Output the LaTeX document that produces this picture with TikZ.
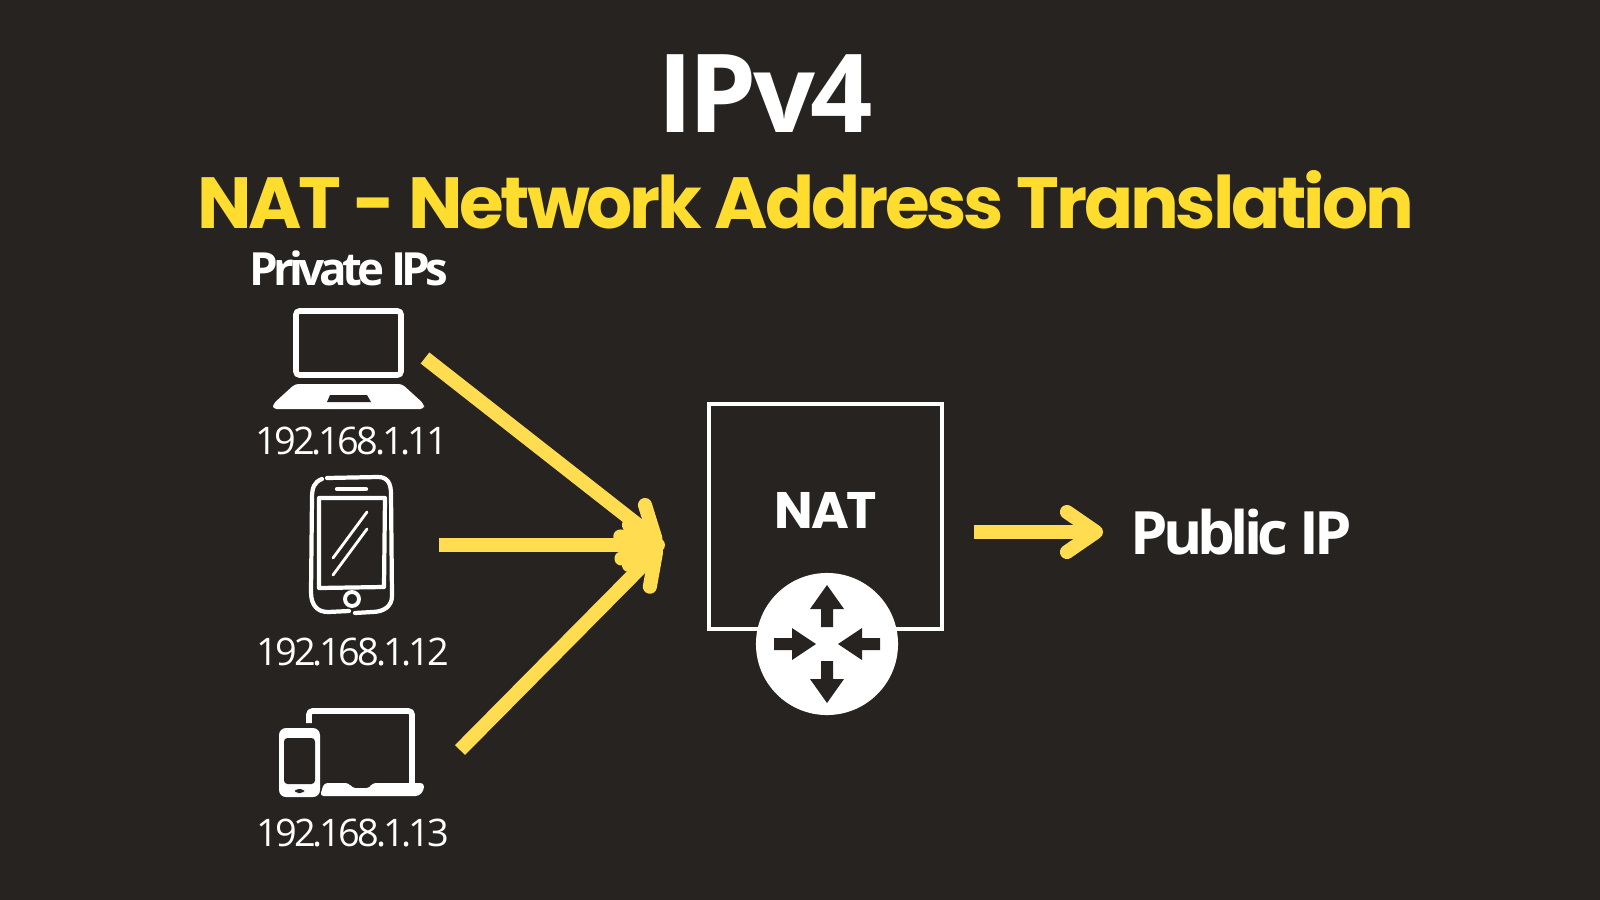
\documentclass[tikz,border=0pt]{standalone}
\usepackage{fontspec}
\setmainfont{Open Sans}
\newfontfamily\headfont{Poppins}[LetterSpace=-4.3]
\newfontfamily\ipfont{Open Sans}[LetterSpace=-8]
\usetikzlibrary{arrows.meta,positioning}
\definecolor{natbg}{HTML}{262321}
\definecolor{natyellow}{HTML}{FFDC50}
\definecolor{headyellow}{HTML}{FFDD2E}
\tikzset{
  yarrow/.style={draw=natyellow,line width=4pt,-{Straight Barb[round,length=2.9mm,width=4mm]}},
  iplabel/.style={text=white,font=\ipfont\fontsize{10.8}{12}\selectfont,inner sep=0pt},
  sketch/.style={draw=white,line width=0.8pt,line cap=round,line join=round},
  icon/.style={draw=white,line width=1.6pt,rounded corners=1pt}
}
\begin{document}
\begin{tikzpicture}[x=0.01cm,y=-0.01cm]
\fill[natbg] (0,0) rectangle (1600,900);
\useasboundingbox (0,0) rectangle (1600,900);
\node[text=white,font=\addfontfeature{LetterSpace=-4}\fontsize{31}{34}\selectfont\bfseries,inner sep=0pt] (title) at (765,94) {IPv4};
\node[text=headyellow,font=\headfont\fontsize{20.6}{24}\selectfont\bfseries,inner sep=0pt] (subtitle) at (805.5,200) {NAT - Network Address Translation};
\node[text=white,font=\addfontfeature{LetterSpace=-10.5}\fontsize{13}{15}\selectfont\bfseries,inner sep=0pt] (private) at (349,268) {Private IPs};
% laptop
\draw[icon] (296,311) rectangle (401,375);
\fill[white,rounded corners=1pt] (295,384) -- (402,384) -- (424,404) -- (424,409) -- (273,409) -- (273,404) -- cycle;
\fill[natbg] (330,395) -- (367,395) -- (371,402) -- (327,402) -- cycle;
\node[iplabel] (ip1) at (352,441) {192.168.1.11};
% phone
\draw[sketch,line width=1.2pt] (322,479) .. controls (314,482) and (312,488) .. (312,498) -- (311,592) .. controls (311,606) and (318,612) .. (328,612) -- (349,611);
\draw[sketch,line width=1.2pt] (327,478) -- (378,477) .. controls (388,477) and (391,484) .. (391,494) -- (392,596) .. controls (392,606) and (384,612) .. (372,612) -- (355,613);
\draw[sketch,line width=1.2pt] (319,498) -- (385,498) -- (384,587) -- (319,588) -- cycle;
\draw[sketch,line width=1.2pt] (337,489) -- (366,489);
\draw[sketch] (367,512) -- (333,558);
\draw[sketch] (367,529) -- (333,575);
\draw[sketch,line width=1.1pt] (352,599) circle (7);
\node[iplabel] (ip2) at (353,652) {192.168.1.12};
% laptop and phone
\draw[icon] (309,723) -- (309,711) -- (412,711) -- (412,784);
\fill[white,rounded corners=1pt] (324,783) -- (349,783) -- (352,788) -- (370,788) -- (372,783) -- (424,783) -- (424,790) -- (419,796) -- (320,796) -- cycle;
\fill[white,rounded corners=0.7mm] (279,728) rectangle (320,797);
\fill[natbg,rounded corners=1pt] (284,738) rectangle (315,784);
\fill[natbg,rounded corners=1pt] (295,789) rectangle (304,793);
\node[iplabel] (ip3) at (353,833) {192.168.1.13};
% arrows to the box
\coordinate (from1) at (425,358);
\coordinate (from2) at (439,545);
\coordinate (from3) at (460,750);
\coordinate (to1) at (661,543);
\coordinate (to2) at (665,545);
\coordinate (to3) at (661,547);
\draw[yarrow] (from1)--(to1);
\draw[yarrow] (from2)--(to2);
\draw[yarrow] (from3)--(to3);
% box and router
\node[draw=white,line width=0.9pt,minimum width=2.33cm,minimum height=2.25cm,inner sep=0pt] (nat) at (825.5,516.5) {};
\node[text=white,font=\headfont\fontsize{14.6}{16}\selectfont\bfseries,inner sep=0pt] (nattext) at (826,510) {NAT};
\node[circle,fill=white,minimum size=1.42cm,inner sep=0pt] (router) at (827,644) {};
\foreach \ang in {0,180}
  \fill[natbg,shift={(router.center)},rotate=\ang] (-6,-17) -- (-6,-35) -- (-17,-35) -- (0,-59) -- (17,-35) -- (6,-35) -- (6,-17) -- cycle;
\foreach \ang in {0,180}
  \fill[natbg,shift={(router.center)},rotate=\ang] (-53,-6) -- (-35,-6) -- (-35,-16) -- (-11,0) -- (-35,16) -- (-35,6) -- (-53,6) -- cycle;
% output
\coordinate (pubfrom) at (974,532);
\coordinate (pubto) at (1103,532);
\draw[yarrow] (pubfrom)--(pubto);
\node[text=white,font=\addfontfeature{LetterSpace=-8}\fontsize{17}{19}\selectfont\bfseries,inner sep=0pt] (public) at (1241,532) {Public IP};
\end{tikzpicture}
\end{document}
